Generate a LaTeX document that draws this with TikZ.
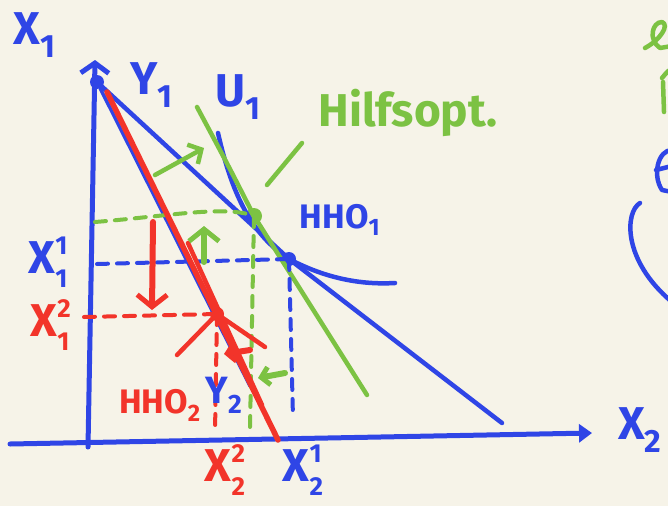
\documentclass[tikz,border=0pt]{standalone}
\usepackage{fontspec}
\setmainfont{Fira Sans}
\usetikzlibrary{arrows.meta}
\definecolor{paper}{HTML}{F6F3E8}
\definecolor{penblue}{HTML}{2F45E6}
\definecolor{pengreen}{HTML}{7CC243}
\definecolor{penred}{HTML}{F2342A}
\newcommand{\supsub}[3]{#1\makebox[0pt][l]{\raisebox{0.42em}{\fontsize{26}{26}\selectfont #2}}\raisebox{-0.3em}{\fontsize{26}{26}\selectfont #3}}

\begin{document}
\begin{tikzpicture}[x=1pt,y=-1pt,
    pen/.style={line width=4.5pt, line cap=round, line join=round},
    dashpen/.style={pen, line width=4pt, dash pattern=on 11pt off 9pt},
    barb/.style={-{Straight Barb[length=12pt,width=30pt,line width=5pt]}},
    dot/.style={circle, fill, inner sep=0pt, minimum size=14pt},
    lab/.style={inner sep=0pt, font=\fontsize{46}{46}\selectfont\bfseries},
    smalllab/.style={inner sep=0pt, font=\fontsize{34}{34}\selectfont\bfseries}]
    % 0. Paper
    \fill[paper] (0,0) rectangle (668,506);
    \useasboundingbox (0,0) rectangle (668,506);
    \clip (0,0) rectangle (668,506);

    % 1. Points
    \coordinate (ybot) at (88,447);
    \coordinate (ytop) at (95,60);
    \coordinate (xleft) at (10,444);
    \coordinate (xright) at (592,433);
    \node[dot, penblue] (top) at (97,82) {};
    \node[dot, penblue] (hhoa) at (289,259) {};
    \node[dot, pengreen, minimum size=16pt] (help) at (254,216) {};
    \node[dot, penred] (hhob) at (217,314) {};

    % 2. Axes
    \draw[pen, penblue, line width=5pt, -{Straight Barb[length=10pt,width=28pt,line width=5pt]}] (ybot) -- (ytop);
    \draw[pen, penblue, line width=5pt, -{Triangle[length=13pt,width=18pt]}] (xleft) -- (xright);

    % 3. Budget lines and indifference curve
    \coordinate (yaend) at (502,423);
    \coordinate (ybend) at (250,386);
    \coordinate (uastart) at (218,133);
    \coordinate (uaend) at (395,283);
    \draw[pen, penblue] (top) -- (hhoa.center) -- (yaend);
    \draw[pen, penblue, line width=3.5pt] (top) -- (ybend);
    \draw[pen, penblue] (uastart) .. controls (232,195) and (252,235) .. (hhoa.center)
        .. controls (325,278) and (360,285) .. (uaend);

    % 4. Help optimum (green)
    \coordinate (gstart) at (197,107);
    \coordinate (gend) at (367,395);
    \coordinate (slasha) at (267,185);
    \coordinate (slashb) at (302,143);
    \coordinate (gxleft) at (95,222);
    \coordinate (gxbot) at (250,428);
    \draw[pen, pengreen] (gstart) .. controls (228,165) .. (help.center) -- (gend);
    \draw[pen, pengreen] (slasha) -- (slashb);
    \draw[dashpen, pengreen] (gxleft) .. controls (170,216) and (225,205) .. (help.center);
    \draw[dashpen, pengreen] (help.center) -- (gxbot);

    % 5. First optimum (blue dashes)
    \coordinate (bxleft) at (97,264);
    \coordinate (bxbot) at (293,418);
    \draw[dashpen, penblue] (bxleft) -- (hhoa.center);
    \draw[dashpen, penblue] (hhoa.center) -- (bxbot);

    % 6. Second budget line (red)
    \coordinate (rstart) at (107,92);
    \coordinate (rend) at (278,440);
    \coordinate (rtwo) at (188,243);
    \coordinate (rtwoend) at (262,405);
    \coordinate (ucleft) at (177,355);
    \coordinate (ucright) at (265,347);
    \coordinate (rxleft) at (84,317);
    \coordinate (rxbot) at (215,432);
    \draw[pen, penred, line width=5.5pt] (rstart) -- (rend);
    \draw[pen, penred] (rtwo) -- (rtwoend);
    \draw[pen, penred] (ucleft) -- (hhob.center) -- (ucright);
    \draw[dashpen, penred] (rxleft) -- (hhob.center);
    \draw[dashpen, penred] (hhob.center) -- (rxbot);

    % 7. Shift arrows
    \coordinate (ra1) at (153,222);  \coordinate (ra2) at (152,310);
    \coordinate (ga1) at (204,262);  \coordinate (ga2) at (204,226);
    \coordinate (gd1) at (155,175);  \coordinate (gd2) at (204,148);
    \coordinate (rs1) at (250,350);  \coordinate (rs2) at (224,354);
    \coordinate (gs1) at (285,373);  \coordinate (gs2) at (258,378);
    \draw[pen, penred, line width=6pt, barb] (ra1) -- (ra2);
    \draw[pen, pengreen, line width=6pt, barb] (ga1) -- (ga2);
    \draw[pen, pengreen, -{Straight Barb[length=10pt,width=22pt,line width=4.5pt]}] (gd1) -- (gd2);
    \draw[pen, penred, line width=6pt, -{Straight Barb[length=8pt,width=18pt,line width=5pt]}] (rs1) -- (rs2);
    \draw[pen, pengreen, line width=6pt, -{Straight Barb[length=8pt,width=18pt,line width=5pt]}] (gs1) -- (gs2);

    % 8. Labels
    \node[lab, penblue] (xalab) at (35,35) {X\textsubscript{1}};
    \node[lab, penblue] (xblab) at (640,430) {X\textsubscript{2}};
    \node[lab, penblue] (yalab) at (152,85) {Y\textsubscript{1}};
    \node[lab, penblue] (ualab) at (238,97) {U\textsubscript{1}};
    \node[lab, pengreen, font=\fontsize{46}{46}\selectfont\bfseries] (helplab) at (408,113) {Hilfsopt.};
    \node[smalllab, penblue] (hhoalab) at (340,220) {HHO\textsubscript{1}};
    \node[lab, penblue] (xaalab) at (48,262) {\supsub{X}{1}{1}};
    \node[lab, penred] (xablab) at (50,325) {\supsub{X}{2}{1}};
    \node[smalllab, penred] (hhoblab) at (160,405) {HHO\textsubscript{2}};
    \node[lab, penblue, font=\fontsize{38}{38}\selectfont\bfseries] (yblab) at (224,395) {Y\textsubscript{2}};
    \node[lab, penred] (xbblab) at (225,470) {\supsub{X}{2}{2}};
    \node[lab, penblue] (xbalab) at (303,470) {\supsub{X}{1}{2}};

    % 9. Cut-off scribbles at the right edge
    \draw[pen, pengreen] (645,48) .. controls (660,40) and (670,25) .. (662,22)
        .. controls (652,22) and (648,40) .. (660,48) -- (672,46);
    \draw[pen, pengreen] (662,78) .. controls (672,66) .. (672,90);
    \draw[pen, pengreen] (663,82) -- (664,112);
    \draw[pen, penblue] (672,150) .. controls (658,150) and (652,175) .. (662,190) -- (672,192);
    \draw[pen, penblue] (656,170) -- (672,166);
    \draw[pen, penblue] (640,203) .. controls (625,212) and (622,260) .. (672,302);
\end{tikzpicture}
\end{document}
